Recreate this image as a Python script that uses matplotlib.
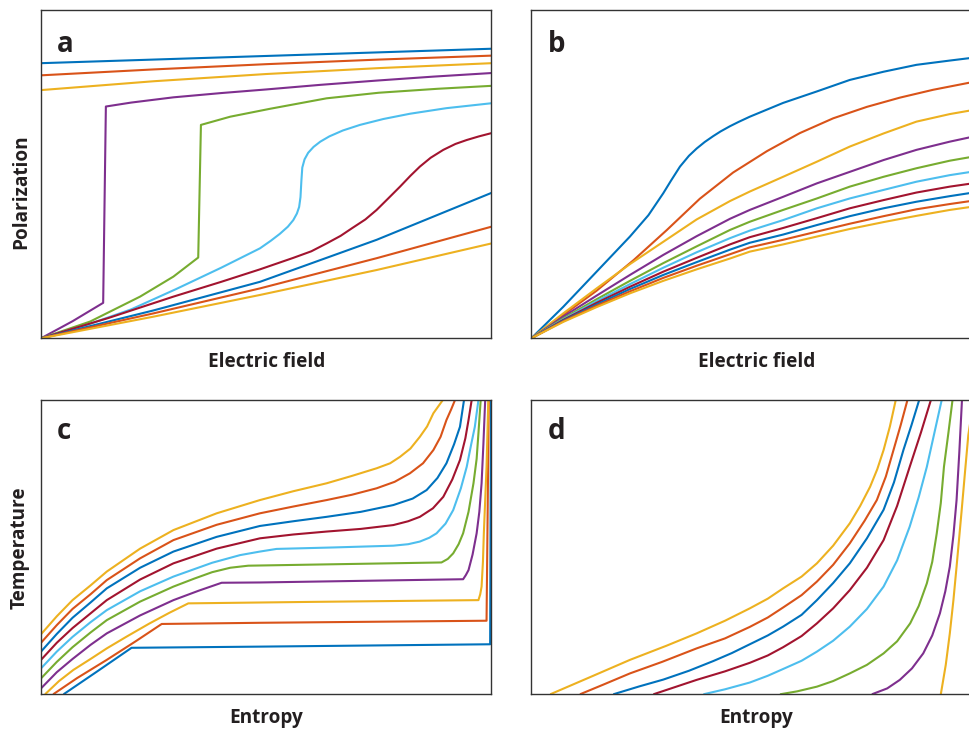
import matplotlib
matplotlib.use("Agg")
import matplotlib.pyplot as plt

# MATLAB-like palette, repeated
palette = ['#0072BD', '#D95319', '#EDB120', '#7E2F8E', '#77AC30',
           '#4DBEEE', '#A2142F', '#0072BD', '#D95319', '#EDB120']

# ---------------- Panel a : Polarization vs Electric field ----------------
a_x = [
    [0, 0.5, 1.0],
    [0, 0.25, 0.5, 0.75, 1.0],
    [0, 0.25, 0.5, 0.75, 1.0],
    [0, 0.07, 0.138, 0.144, 0.2, 0.294, 0.4, 0.5, 0.62, 0.745, 0.87, 1.0],
    [0, 0.109, 0.22, 0.294, 0.349, 0.355, 0.42, 0.508, 0.634, 0.75, 0.88, 1.0],
    [0, 0.1, 0.2, 0.3, 0.4, 0.486, 0.51, 0.53, 0.548, 0.56, 0.568, 0.573, 0.576,
     0.578, 0.58, 0.585, 0.593, 0.605, 0.62, 0.64, 0.67, 0.708, 0.76, 0.819, 0.9, 1.0],
    [0, 0.15, 0.294, 0.4, 0.486, 0.56, 0.6, 0.634, 0.665, 0.69, 0.72, 0.745, 0.77,
     0.797, 0.82, 0.841, 0.865, 0.893, 0.92, 0.945, 0.972, 1.0],
    [0, 0.25, 0.486, 0.745, 1.0],
    [0, 0.25, 0.486, 0.745, 1.0],
    [0, 0.25, 0.486, 0.745, 1.0],
]
a_y = [
    [0.838, 0.860, 0.882],
    [0.801, 0.819, 0.835, 0.849, 0.861],
    [0.756, 0.783, 0.805, 0.823, 0.838],
    [0, 0.052, 0.108, 0.706, 0.718, 0.734, 0.747, 0.758, 0.772, 0.785, 0.797, 0.808],
    [0, 0.051, 0.127, 0.188, 0.246, 0.650, 0.675, 0.699, 0.731, 0.748, 0.760, 0.769],
    [0, 0.04, 0.088, 0.15, 0.215, 0.274, 0.297, 0.318, 0.34, 0.36, 0.38, 0.40, 0.43,
     0.48, 0.52, 0.545, 0.565, 0.583, 0.599, 0.615, 0.633, 0.65, 0.668, 0.684, 0.701, 0.716],
    [0, 0.062, 0.127, 0.172, 0.21, 0.245, 0.265, 0.289, 0.312, 0.335, 0.362, 0.391, 0.425,
     0.462, 0.495, 0.523, 0.55, 0.574, 0.592, 0.604, 0.615, 0.625],
    [0, 0.085, 0.172, 0.30, 0.443],
    [0, 0.076, 0.152, 0.244, 0.34],
    [0, 0.066, 0.132, 0.208, 0.289],
]

# ---------------- Panel b : Polarization vs Electric field (smooth) ----------------
b_x_common = [0, 0.071, 0.145, 0.219, 0.293, 0.367, 0.441, 0.485, 0.559, 0.634,
              0.707, 0.782, 0.855, 0.929, 1.0]
b_x = [
    [0, 0.071, 0.145, 0.219, 0.26, 0.293, 0.31, 0.33, 0.35, 0.367, 0.385, 0.404,
     0.42, 0.441, 0.46, 0.485, 0.559, 0.634, 0.707, 0.782, 0.855, 0.929, 1.0],
    [0, 0.07, 0.145, 0.227, 0.301, 0.374, 0.448, 0.523, 0.596, 0.67, 0.745,
     0.818, 0.892, 0.974, 1.0],
] + [b_x_common] * 8
b_y = [
    [0, 0.096, 0.203, 0.31, 0.375, 0.442, 0.48, 0.523, 0.556, 0.578, 0.598, 0.616,
     0.63, 0.646, 0.659, 0.675, 0.717, 0.752, 0.787, 0.812, 0.833, 0.846, 0.858],
    [0, 0.07, 0.145, 0.238, 0.33, 0.425, 0.505, 0.57, 0.625, 0.67, 0.705,
     0.733, 0.757, 0.779, 0.785],
    [0, 0.076, 0.152, 0.226, 0.294, 0.362, 0.418, 0.447, 0.492, 0.538, 0.584, 0.624, 0.66, 0.683, 0.70],
    [0, 0.066, 0.13, 0.193, 0.254, 0.311, 0.364, 0.391, 0.431, 0.472, 0.507, 0.543, 0.574, 0.599, 0.62],
    [0, 0.061, 0.119, 0.175, 0.229, 0.28, 0.33, 0.355, 0.391, 0.426, 0.462, 0.492, 0.518, 0.541, 0.558],
    [0, 0.058, 0.113, 0.165, 0.215, 0.262, 0.305, 0.328, 0.36, 0.396, 0.426, 0.452, 0.477, 0.497, 0.512],
    [0, 0.056, 0.108, 0.157, 0.203, 0.245, 0.286, 0.308, 0.336, 0.366, 0.396, 0.421, 0.444, 0.462, 0.476],
    [0, 0.054, 0.103, 0.15, 0.193, 0.232, 0.27, 0.291, 0.316, 0.345, 0.372, 0.396, 0.416, 0.433, 0.448],
    [0, 0.052, 0.099, 0.143, 0.184, 0.221, 0.256, 0.277, 0.3, 0.325, 0.349, 0.372, 0.393, 0.409, 0.423],
    [0, 0.05, 0.095, 0.137, 0.175, 0.21, 0.243, 0.264, 0.286, 0.31, 0.333, 0.354, 0.373, 0.391, 0.405],
]

# ---------------- Panel c : Temperature vs Entropy ----------------
c_x = [
    [0.05, 0.124, 0.201, 0.486, 0.997, 0.999],
    [0.027, 0.08, 0.146, 0.21, 0.268, 0.486, 0.989, 0.994],
    [0.009, 0.04, 0.072, 0.11, 0.146, 0.19, 0.24, 0.285, 0.327, 0.6, 0.971, 0.975,
     0.978, 0.981, 0.983, 0.989, 0.993],
    [0, 0.035, 0.07, 0.11, 0.146, 0.22, 0.294, 0.35, 0.401, 0.486, 0.937, 0.943,
     0.949, 0.958, 0.967, 0.973, 0.978, 0.982, 0.986],
    [0, 0.035, 0.07, 0.11, 0.146, 0.22, 0.294, 0.34, 0.38, 0.42, 0.46, 0.889, 0.903,
     0.915, 0.927, 0.937, 0.949, 0.96, 0.967, 0.971, 0.976],
    [0, 0.035, 0.07, 0.11, 0.146, 0.22, 0.294, 0.38, 0.442, 0.486, 0.523, 0.65, 0.782,
     0.815, 0.841, 0.862, 0.878, 0.898, 0.915, 0.932, 0.945, 0.955, 0.963, 0.971],
    [0, 0.035, 0.07, 0.11, 0.146, 0.22, 0.294, 0.39, 0.486, 0.56, 0.634, 0.71, 0.782,
     0.815, 0.841, 0.87, 0.893, 0.913, 0.93, 0.942, 0.949, 0.956],
    [0, 0.035, 0.07, 0.11, 0.146, 0.22, 0.294, 0.39, 0.486, 0.56, 0.634, 0.71, 0.782,
     0.825, 0.856, 0.88, 0.9, 0.917, 0.93, 0.939],
    [0, 0.035, 0.07, 0.11, 0.146, 0.22, 0.294, 0.39, 0.486, 0.56, 0.634, 0.69, 0.745,
     0.785, 0.819, 0.848, 0.871, 0.887, 0.9, 0.911, 0.919],
    [0, 0.035, 0.07, 0.11, 0.146, 0.22, 0.294, 0.39, 0.486, 0.56, 0.634, 0.69, 0.745,
     0.775, 0.797, 0.82, 0.841, 0.857, 0.871, 0.892],
]
c_y = [
    [0, 0.077, 0.158, 0.162, 0.170, 1.0],
    [0, 0.055, 0.117, 0.18, 0.239, 0.243, 0.250, 1.0],
    [0, 0.045, 0.083, 0.12, 0.156, 0.196, 0.24, 0.277, 0.309, 0.314, 0.320, 0.34,
     0.366, 0.45, 0.547, 0.773, 1.0],
    [0.02, 0.075, 0.12, 0.168, 0.207, 0.268, 0.32, 0.352, 0.379, 0.380, 0.391, 0.405,
     0.422, 0.475, 0.547, 0.62, 0.717, 0.85, 1.0],
    [0.054, 0.11, 0.16, 0.21, 0.252, 0.315, 0.366, 0.393, 0.415, 0.43, 0.437, 0.448, 0.46,
     0.479, 0.51, 0.547, 0.62, 0.717, 0.80, 0.887, 1.0],
    [0.088, 0.145, 0.195, 0.245, 0.286, 0.35, 0.40, 0.447, 0.473, 0.485, 0.494, 0.499, 0.505,
     0.51, 0.519, 0.532, 0.547, 0.58, 0.626, 0.70, 0.773, 0.85, 0.909, 1.0],
    [0.117, 0.175, 0.225, 0.275, 0.32, 0.39, 0.445, 0.495, 0.53, 0.543, 0.553, 0.562, 0.575,
     0.588, 0.603, 0.632, 0.671, 0.73, 0.796, 0.87, 0.932, 1.0],
    [0.145, 0.205, 0.26, 0.312, 0.36, 0.43, 0.485, 0.535, 0.572, 0.588, 0.603, 0.62, 0.643,
     0.665, 0.694, 0.735, 0.785, 0.85, 0.909, 1.0],
    [0.175, 0.235, 0.29, 0.34, 0.388, 0.462, 0.524, 0.576, 0.615, 0.638, 0.66, 0.678, 0.70,
     0.722, 0.751, 0.785, 0.83, 0.875, 0.932, 0.97, 1.0],
    [0.204, 0.265, 0.32, 0.37, 0.417, 0.495, 0.558, 0.615, 0.66, 0.69, 0.717, 0.742, 0.768,
     0.785, 0.807, 0.835, 0.875, 0.91, 0.955, 1.0],
]

# ---------------- Panel d : Temperature vs Entropy (smooth) ----------------
d_x = [
    [0.042, 0.13, 0.219, 0.3, 0.367, 0.43, 0.485, 0.525, 0.559, 0.6, 0.634, 0.67, 0.707,
     0.73, 0.752, 0.768, 0.782, 0.796, 0.809],
    [0.108, 0.16, 0.219, 0.29, 0.367, 0.43, 0.485, 0.525, 0.559, 0.6, 0.634, 0.67, 0.707,
     0.74, 0.767, 0.787, 0.804, 0.82, 0.835],
    [0.182, 0.24, 0.293, 0.35, 0.404, 0.445, 0.485, 0.525, 0.559, 0.6, 0.634, 0.67, 0.707,
     0.745, 0.782, 0.805, 0.826, 0.844, 0.861],
    [0.271, 0.32, 0.367, 0.43, 0.485, 0.525, 0.559, 0.6, 0.634, 0.67, 0.707, 0.745, 0.782,
     0.812, 0.84, 0.865, 0.887],
    [0.382, 0.43, 0.485, 0.525, 0.559, 0.6, 0.634, 0.67, 0.707, 0.745, 0.782, 0.812, 0.84,
     0.86, 0.878, 0.895, 0.911],
    [0.552, 0.59, 0.634, 0.67, 0.707, 0.745, 0.782, 0.812, 0.841, 0.86, 0.878, 0.89, 0.9,
     0.909, 0.916, 0.926, 0.935],
    [0.756, 0.79, 0.818, 0.845, 0.87, 0.89, 0.907, 0.919, 0.929, 0.937, 0.944, 0.95, 0.956],
    [0.909, 0.92, 0.929, 0.937, 0.944, 0.955, 0.963, 0.97, 0.978, 0.99],
]
d_y = [
    [0, 0.058, 0.117, 0.165, 0.207, 0.25, 0.292, 0.325, 0.36, 0.40, 0.445, 0.505, 0.581,
     0.64, 0.705, 0.765, 0.83, 0.91, 1.0],
    [0, 0.033, 0.071, 0.11, 0.156, 0.19, 0.229, 0.261, 0.295, 0.337, 0.383, 0.44, 0.513,
     0.59, 0.66, 0.74, 0.83, 0.915, 1.0],
    [0, 0.027, 0.05, 0.08, 0.113, 0.14, 0.17, 0.2, 0.23, 0.27, 0.32, 0.378, 0.445,
     0.53, 0.627, 0.72, 0.83, 0.915, 1.0],
    [0, 0.025, 0.049, 0.078, 0.107, 0.132, 0.16, 0.198, 0.241, 0.292, 0.354, 0.43, 0.524,
     0.64, 0.773, 0.89, 1.0],
    [0, 0.017, 0.04, 0.063, 0.086, 0.114, 0.145, 0.182, 0.23, 0.29, 0.366, 0.455, 0.57,
     0.67, 0.773, 0.89, 1.0],
    [0, 0.01, 0.026, 0.045, 0.071, 0.1, 0.139, 0.18, 0.241, 0.3, 0.377, 0.45, 0.547,
     0.65, 0.773, 0.89, 1.0],
    [0, 0.02, 0.049, 0.088, 0.139, 0.2, 0.275, 0.35, 0.434, 0.54, 0.660, 0.82, 1.0],
    [0, 0.1, 0.207, 0.32, 0.434, 0.62, 0.76, 0.88, 0.96, 1.0],
]

# colour order per panel (indices into palette)
a_colors = list(range(10))
b_colors = list(range(10))
c_colors = list(range(10))
d_colors = [9, 8, 7, 6, 5, 4, 3, 2]

panel_letters = ['a', 'b', 'c', 'd']
x_labels = ['Electric field', 'Electric field', 'Entropy', 'Entropy']
y_labels = ['Polarization', 'Temperature']

FONT = ['Open Sans', 'DejaVu Sans']
W, H = 970, 729
fig = plt.figure(figsize=(W / 100, H / 100), dpi=100)


def frac_rect(x0, y0, x1, y1):
    return [x0 / W, 1 - y1 / H, (x1 - x0) / W, (y1 - y0) / H]


rects = [
    frac_rect(41, 10, 491.5, 338.3),
    frac_rect(531.3, 10, 981.8, 338.3),
    frac_rect(41, 400, 491.5, 694.3),
    frac_rect(531.3, 400, 981.8, 694.3),
]
data = [(a_x, a_y, a_colors), (b_x, b_y, b_colors),
        (c_x, c_y, c_colors), (d_x, d_y, d_colors)]
letter_y = [0.873, 0.873, 0.866, 0.868]

for i, (rect, (xs, ys, cols)) in enumerate(zip(rects, data)):
    ax = fig.add_axes(rect)
    for k, (xx, yy) in enumerate(zip(xs, ys)):
        ax.plot(xx, yy, color=palette[cols[k]], lw=1.5, solid_joinstyle='round',
                solid_capstyle='butt')
    ax.set_xlim(0, 1)
    ax.set_ylim(0, 1)
    ax.set_xticks([])
    ax.set_yticks([])
    for s in ax.spines.values():
        s.set_color('#333333')
        s.set_linewidth(1.0)
    ax.text(0.036, letter_y[i], panel_letters[i], transform=ax.transAxes,
            fontsize=20, fontweight='bold', family=FONT, color='#231f20',
            ha='left', va='baseline')

# x labels
for cx, by, lab in [(266.3, 367, x_labels[0]), (756.5, 367, x_labels[1]),
                    (266.3, 723, x_labels[2]), (756.5, 723, x_labels[3])]:
    fig.text(cx / W, 1 - by / H, lab, fontsize=13.7, fontweight='bold',
             family=FONT, color='#231f20', ha='center', va='baseline')

# y labels
fig.text(20.8 / W, 1 - 191.5 / H, y_labels[0], rotation=90, fontsize=13.7,
         fontweight='bold', family=FONT, color='#231f20', ha='center', va='center')
fig.text(19.5 / W, 1 - 547.5 / H, y_labels[1], rotation=90, fontsize=13.7,
         fontweight='bold', family=FONT, color='#231f20', ha='center', va='center')

fig.savefig('out.png', dpi=100)
